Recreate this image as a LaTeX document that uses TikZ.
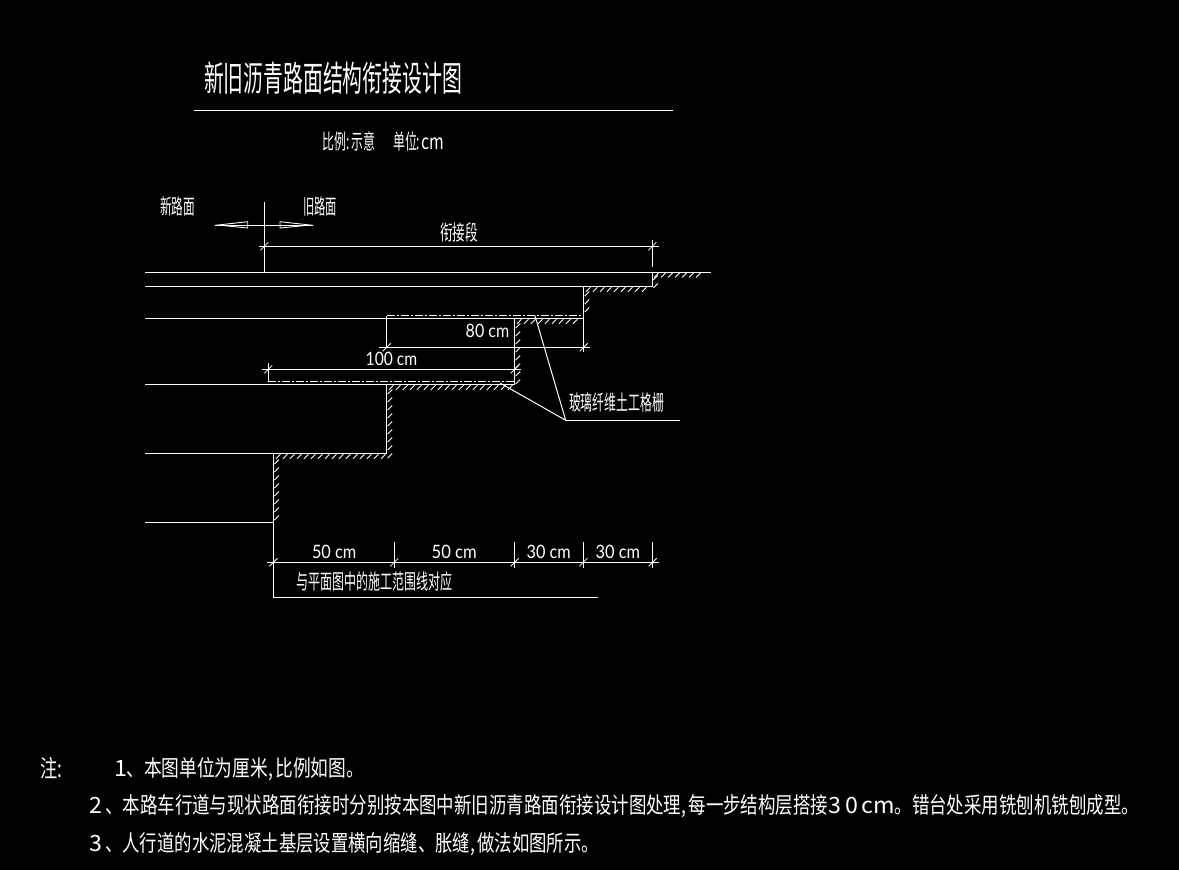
\documentclass[tikz,border=0pt]{standalone}
\usepackage{fontspec}
\usepackage{graphicx}
\setmainfont{Lato}
\newfontfamily\cjk{Noto Sans CJK SC}
\tikzset{
  cad/.style={draw=white,line width=1pt},
  thincad/.style={draw=white,line width=0.85pt},
  dashdot/.style={draw=white,line width=1pt,dash pattern=on 8pt off 2pt on 2pt off 2pt},
  label/.style={text=white,inner sep=0pt,outer sep=0pt,anchor=west},
}
% #1 name, #2 x, #3 y, #4 width, #5 height of the em box, #6 text
\newcommand{\cadtext}[6]{\node[label] (#1) at (#2,#3) {\resizebox*{#4pt}{#5pt}{\cjk\rule[-.12em]{0pt}{1em}#6}};}
\newcommand{\dimtext}[5]{\node[label] (#1) at (#2,#3) {\resizebox*{#4pt}{13.5pt}{#5\hspace{.25em}cm}};}
\newcommand{\wdg}[2]{\makebox[#1em][l]{\scalebox{1.33}[1]{#2}}}
\newcommand{\cmm}{\makebox[.41em][l]{,}}
\newcommand{\hatchH}[3]{\pgfmathsetmacro{\hnext}{#1+7}\foreach \hx in {#1,\hnext,...,#2} {\draw[thincad] (\hx,#3+5.5) -- (\hx+4.5,#3+1);}}
\newcommand{\hatchV}[3]{\pgfmathsetmacro{\vnext}{#2+8}\foreach \hy in {#2,\vnext,...,#3} {\draw[thincad] (#1+1,\hy) -- (#1+5.5,\hy-4.5);}}
\newcommand{\dimtick}[2]{\draw[thincad] (#1-4,#2+4) -- (#1+4,#2-4);}
\begin{document}
\begin{tikzpicture}[x=1pt,y=-1pt]
\useasboundingbox (0,0) rectangle (1179,870);
\fill[black] (0,0) rectangle (1179,870);
% title
\cadtext{title}{204}{78.5}{258}{35}{新旧沥青路面结构衔接设计图}
\coordinate (ruleL) at (194,110.3); \coordinate (ruleR) at (673,110.3);
\draw[cad] (ruleL) -- (ruleR);
\cadtext{scale}{322.7}{142}{120.5}{21}{比例\makebox[.4em][l]{:}示意\hspace{1.5em}单位\makebox[.4em][l]{:}\makebox[1.8em][l]{\scalebox{1.33}[1]{cm}}}
% new / old
\cadtext{newroad}{160}{206.7}{35}{21}{新路面}
\cadtext{oldroad}{303}{206.7}{34}{21}{旧路面}
\coordinate (axT) at (264.3,202); \coordinate (axB) at (264.3,272);
\coordinate (arL) at (215,225); \coordinate (arR) at (312.7,225);
\draw[cad] (axT) -- (axB);
\draw[cad] (arL) -- (arR);
\coordinate (lt) at (218,225); \coordinate (lu) at (247.7,221.7); \coordinate (ld) at (247.7,228);
\coordinate (rt) at (310,225); \coordinate (ru) at (280,221.7); \coordinate (rd) at (280,228);
\draw[thincad] (lt) -- (lu) -- (ld) -- cycle;
\draw[thincad] (rt) -- (ru) -- (rd) -- cycle;
% transition dimension
\cadtext{transition}{440}{233}{38}{21}{衔接段}
\coordinate (d0L) at (259,246.3); \coordinate (d0R) at (659,246.3);
\coordinate (d0eT) at (652.3,240); \coordinate (d0eB) at (652.3,266.7);
\draw[cad] (d0L) -- (d0R);
\draw[cad] (d0eT) -- (d0eB);
\dimtick{264.3}{246.3}\dimtick{652.3}{246.3}
% pavement lines
\coordinate (a1) at (145,272); \coordinate (a2) at (711,272); \coordinate (a3) at (652.3,272);
\coordinate (b1) at (145,286.3); \coordinate (b2) at (652.3,286.3); \coordinate (b3) at (583.7,286.3);
\coordinate (c1) at (145,318.3); \coordinate (c2) at (583.7,318.3); \coordinate (c3) at (514.7,318.3);
\coordinate (e1) at (145,384.3); \coordinate (e2) at (514.7,384.3); \coordinate (e3) at (386.7,384.3);
\coordinate (f1) at (145,453.3); \coordinate (f2) at (386.7,453.3); \coordinate (f3) at (273.5,453.3);
\coordinate (g1) at (145,522.3); \coordinate (g2) at (273.5,522.3);
\coordinate (h1) at (273.5,597.3); \coordinate (h2) at (597.7,597.3);
\coordinate (k1) at (583.7,352);
\draw[cad] (a1) -- (a2);
\draw[cad] (b1) -- (b2) -- (a3);
\draw[cad] (b3) -- (k1);
\draw[cad] (c1) -- (c2);
\draw[cad] (c3) -- (e2) -- (e1);
\draw[cad] (e3) -- (f2) -- (f1);
\draw[cad] (f3) -- (h1) -- (h2);
\draw[cad] (g1) -- (g2);
% hatching
\hatchH{654}{702}{272}
\hatchV{652.3}{280}{290}
\hatchH{586}{648}{286.3}
\hatchV{583.7}{296}{318}
\hatchH{517}{578}{318.3}
\hatchV{514.7}{328}{390}
\hatchH{389}{510}{384.3}
\hatchV{386.7}{394}{458}
\hatchH{276}{384}{453.3}
\hatchV{273.5}{464}{520}
% geogrid (dash-dot)
\coordinate (p1) at (386.7,347.3); \coordinate (p2) at (386.7,315.7); \coordinate (p3) at (583.7,315.7);
\coordinate (q1) at (268.3,363); \coordinate (q2) at (268.3,381); \coordinate (q3) at (514.7,381);
\draw[cad] (p1) -- (p2);
\draw[dashdot] (p2) -- (p3);
\draw[cad] (q1) -- (q2);
\draw[dashdot] (q2) -- (q3);
% 80 cm
\coordinate (d1L) at (379,347.3); \coordinate (d1R) at (590,347.3);
\draw[cad] (d1L) -- (d1R);
\dimtick{386.7}{347.3}\dimtick{583.7}{347.3}
\dimtext{t80}{465.7}{331}{43.5}{80}
% 100 cm
\coordinate (d2L) at (262,369.3); \coordinate (d2R) at (520.7,369.3);
\draw[cad] (d2L) -- (d2R);
\dimtick{268.3}{369.3}\dimtick{514.7}{369.3}
\dimtext{t100}{365.7}{359}{51.5}{100}
% leader
\coordinate (l0) at (565.7,420.3); \coordinate (l1) at (535,315.7); \coordinate (l2) at (500,383); \coordinate (l3) at (680,420.3);
\draw[cad] (l1) -- (l0) -- (l2);
\draw[cad] (l0) -- (l3);
\cadtext{grid}{569}{403}{95}{21}{玻璃纤维土工格栅}
% bottom dimensions
\coordinate (d3L) at (267.3,562.3); \coordinate (d3R) at (659,562.3);
\draw[cad] (d3L) -- (d3R);
\coordinate (ea1) at (394.3,542); \coordinate (eb1) at (394.3,568); \draw[cad] (ea1) -- (eb1);
\coordinate (ea2) at (514.7,542); \coordinate (eb2) at (514.7,568); \draw[cad] (ea2) -- (eb2);
\coordinate (ea3) at (583.3,542); \coordinate (eb3) at (583.3,568); \draw[cad] (ea3) -- (eb3);
\coordinate (ea4) at (652.7,542); \coordinate (eb4) at (652.7,568); \draw[cad] (ea4) -- (eb4);
\dimtick{273.5}{562.3}\dimtick{394.3}{562.3}\dimtick{514.7}{562.3}\dimtick{583.3}{562.3}\dimtick{652.7}{562.3}
\dimtext{t50a}{312}{552.3}{44.3}{50}
\dimtext{t50b}{431.7}{552.3}{45}{50}
\dimtext{t30a}{526.7}{552.3}{44}{30}
\dimtext{t30b}{595.7}{552.3}{44.3}{30}
\cadtext{match}{296}{582}{156}{21}{与平面图中的施工范围线对应}
% notes
\cadtext{notehead}{40.7}{768.5}{24}{24}{注\makebox[.4em][l]{:}}
\cadtext{noteone}{114}{768.5}{250}{24}{\wdg{.7}{1}、本图单位为厘米\cmm 比例如图。}
\cadtext{notetwo}{89}{806}{1050}{24}{\wdg{.93}{2}、本路车行道与现状路面衔接时分别按本图中新旧沥青路面衔接设计图处理\cmm 每一步结构层搭接\wdg{1}{3}\wdg{.9}{0}\wdg{1.9}{cm}。错台处采用铣刨机铣刨成型。}
\cadtext{notethree}{89}{843.5}{510}{24}{\wdg{.93}{3}、人行道的水泥混凝土基层设置横向缩缝、胀缝\cmm 做法如图所示。}
\end{tikzpicture}
\end{document}
